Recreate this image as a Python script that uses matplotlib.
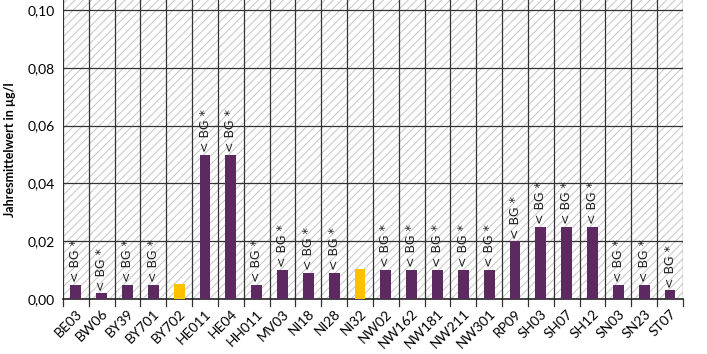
import matplotlib.pyplot as plt
from matplotlib.patches import Rectangle

plt.rcParams['font.family'] = ['Lato', 'DejaVu Sans']
plt.rcParams['hatch.linewidth'] = 0.7
plt.rcParams['hatch.color'] = '#c4c4c4'

stations = ['BE03', 'BW06', 'BY39', 'BY701', 'BY702', 'HE011', 'HE04', 'HH011', 'MV03',
            'NI18', 'NI28', 'NI32', 'NW02', 'NW162', 'NW181', 'NW211', 'NW301', 'RP09',
            'SH03', 'SH07', 'SH12', 'SN03', 'SN23', 'ST07']
values = [0.005, 0.002, 0.005, 0.005, 0.0052, 0.05, 0.05, 0.005, 0.010,
          0.009, 0.009, 0.0105, 0.010, 0.010, 0.010, 0.010, 0.010, 0.020,
          0.025, 0.025, 0.025, 0.005, 0.005, 0.003]
below_bg = [True, True, True, True, False, True, True, True, True,
            True, True, False, True, True, True, True, True, True,
            True, True, True, True, True, True]

purple = '#5c2a60'
yellow = '#ffc000'
colors = [purple if b else yellow for b in below_bg]

fig = plt.figure(figsize=(7.07, 3.54), dpi=100)
ax = fig.add_axes([0.089, 0.155, 0.877, 0.845])

n = len(stations)
x = list(range(n))
ax.set_xlim(-0.5, n - 0.5)
ax.set_ylim(0, 0.10346)

# hatched background
bg = Rectangle((0, 0), 1, 1, transform=ax.transAxes, facecolor='white',
               hatch='////', edgecolor='#c4c4c4', linewidth=0, zorder=0)
ax.add_patch(bg)

ax.bar(x, values, width=0.42, color=colors, zorder=3)

# "< BG *" labels
for xi, v, b in zip(x, values, below_bg):
    if b:
        ax.annotate('< BG *', (xi, v), xytext=(0, 2), textcoords='offset points',
                    rotation=90, ha='center', va='bottom', fontsize=9,
                    family='DejaVu Sans', color='#222222', zorder=4)

# grid
for yv in [0.02, 0.04, 0.06, 0.08, 0.10]:
    ax.axhline(yv, color='#333333', linewidth=0.9, zorder=2)
for xb in range(n + 1):
    ax.axvline(xb - 0.5, color='#333333', linewidth=0.9, zorder=2)

ax.set_yticks([0, 0.02, 0.04, 0.06, 0.08, 0.10])
ax.set_yticklabels(['0,00', '0,02', '0,04', '0,06', '0,08', '0,10'], fontsize=10)
ax.tick_params(axis='y', length=0, pad=6)

ax.set_xticks(x)
ax.set_xticklabels(stations, rotation=45, ha='right', rotation_mode='anchor', fontsize=10)
ax.tick_params(axis='x', length=0, pad=6)
for xb in range(n + 1):
    ax.plot([xb - 0.5, xb - 0.5], [0, -0.0025], color='#333333', linewidth=0.9,
            clip_on=False, zorder=2)

for s in ['top', 'right', 'left']:
    ax.spines[s].set_visible(False)
ax.spines['bottom'].set_color('#222222')
ax.spines['bottom'].set_linewidth(1.2)

ax.set_ylabel('Jahresmittelwert in µg/l', fontsize=9, fontweight='bold', labelpad=8)

fig.savefig('out.png', dpi=100)
